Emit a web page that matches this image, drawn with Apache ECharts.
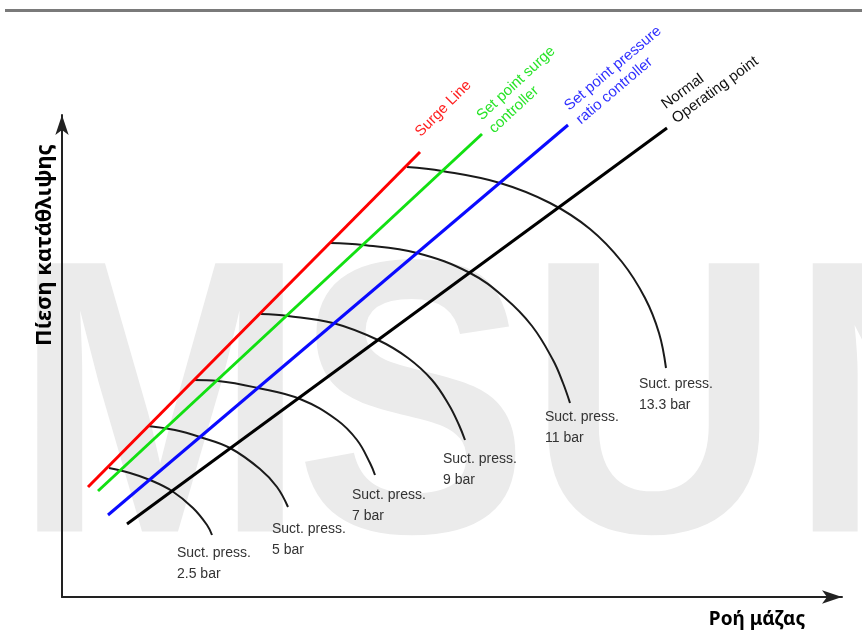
<!DOCTYPE html>
<html>
<head>
<meta charset="utf-8">
<script src="https://cdn.jsdelivr.net/npm/echarts@6/dist/echarts.min.js"></script>
<style>
  html, body { margin: 0; padding: 0; background: #fff; }
  #chart { width: 862px; height: 644px; }
</style>
</head>
<body>
<div id="chart"></div>
<script>
// axis ranges (mass flow / discharge pressure, units)
var flowMax = 780;
var pressMax = 482;

// straight control lines: [start, end]
var lineNames = ['Surge Line', 'Set point surge\ncontroller', 'Set point pressure\nratio controller', 'Normal\nOperating point'];
var surgeLine = [[26, 110], [358, 445]];
var surgeCtrl = [[36, 106], [420, 463]];
var ratioCtrl = [[46, 82], [506, 472]];
var normalOp = [[65, 73], [605, 469]];

// compressor characteristic for each suction pressure
var suctLabels = ['2.5 bar', '5 bar', '7 bar', '9 bar', '11 bar', '13.3 bar'];
var curve25 = [[47, 129], [68, 124], [88, 117], [110, 106], [131, 89], [145, 72], [150, 62]];
var curve5 = [[86, 171], [113, 167], [138, 160], [168, 149], [198, 128], [215, 110], [226, 90]];
var curve7 = [[131, 217], [156, 216], [196, 209], [238, 198], [275, 177], [295, 157], [308, 134], [313, 122]];
var curve9 = [[199, 283], [226, 281], [271, 274], [316, 257], [346, 239], [370, 217], [387, 192], [397, 172], [403, 157]];
var curve11 = [[268, 354], [301, 352], [355, 344], [408, 324], [443, 299], [470, 271], [491, 237], [501, 214], [508, 194]];
var curve133 = [[345, 430], [380, 426], [438, 414], [488, 394], [528, 368], [560, 335], [583, 299], [597, 264], [604, 229]];

var lineData = [surgeLine, surgeCtrl, ratioCtrl, normalOp];
var lineColors = ['#ff0000', '#12e012', '#0a0aff', '#000000'];
var lineTextColors = ['#ff2020', '#28e428', '#3030ff', '#111111'];
// label offset along the line / perpendicular to it (px)
var lineLabelOffset = [[11, 14], [9, 5], [10, 5], [10, 11]];

var curveData = [curve25, curve5, curve7, curve9, curve11, curve133];
// label offset from curve end (px): left shift, first line centre drop
var suctOffset = [[-35, 18], [-16, 22], [-23, 20], [-22, 19], [-25, 14], [-27, 16]];

var chart = echarts.init(document.getElementById('chart'));

var seriesList = [];
curveData.forEach(function (d, i) {
    seriesList.push({
        name: 'Suct. press. ' + suctLabels[i],
        type: 'line',
        data: d,
        smooth: 0.4,
        showSymbol: false,
        silent: true,
        clip: false,
        z: 2,
        lineStyle: { color: '#1a1a1a', width: 2 }
    });
});
lineData.forEach(function (d, i) {
    seriesList.push({
        name: lineNames[i],
        type: 'line',
        data: d,
        showSymbol: false,
        silent: true,
        clip: false,
        z: 3,
        lineStyle: { color: lineColors[i], width: 3 }
    });
});

var axisStyle = {
    type: 'value',
    axisLine: {
        show: true,
        symbol: ['none', 'arrow'],
        symbolSize: [10, 20],
        lineStyle: { color: '#222', width: 2 }
    },
    axisTick: { show: false },
    axisLabel: { show: false },
    splitLine: { show: false }
};

option = {
    backgroundColor: '#fff',
    animation: false,
    grid: { left: 62, right: 20, top: 115, bottom: 47 },
    xAxis: Object.assign({}, axisStyle, { min: 0, max: flowMax }),
    yAxis: Object.assign({}, axisStyle, { min: 0, max: pressMax }),
    series: seriesList
};
chart.setOption(option);

// watermark, frame line, axis titles and annotations
var graphics = [];
var wm = [['M', 160], ['S', 412], ['U', 654], ['N', 916]];
wm.forEach(function (w) {
    graphics.push({
        type: 'text', z: -10, silent: true, x: w[1], y: 424, scaleX: 0.9,
        style: { text: w[0], fill: '#ebebeb', fontSize: 390, fontWeight: 'bold',
            fontFamily: 'Liberation Sans', align: 'center', verticalAlign: 'middle' }
    });
});
graphics.push({
    type: 'line', silent: true, shape: { x1: 5, y1: 10.5, x2: 862, y2: 10.5 },
    style: { stroke: '#7a7a7a', lineWidth: 3 }
});
graphics.push({
    type: 'text', x: 45, y: 245, rotation: Math.PI / 2,
    style: { text: 'Πίεση κατάθλιψης', fill: '#000', fontSize: 22, fontWeight: 'bold',
        fontFamily: 'Noto Sans', align: 'center', verticalAlign: 'middle' }
});
graphics.push({
    type: 'text', x: 757, y: 620,
    style: { text: 'Ροή μάζας', fill: '#000', fontSize: 19, fontWeight: 'bold',
        fontFamily: 'Noto Sans', align: 'center', verticalAlign: 'middle' }
});

function toPx(p) { return chart.convertToPixel({ gridIndex: 0 }, p); }

lineData.forEach(function (d, i) {
    var a = toPx(d[0]), b = toPx(d[1]);
    var dx = b[0] - a[0], dy = b[1] - a[1];
    var len = Math.sqrt(dx * dx + dy * dy);
    var ux = dx / len, uy = dy / len;
    var px = uy, py = -ux; // perpendicular, towards upper left
    var off = lineLabelOffset[i];
    graphics.push({
        type: 'text',
        x: b[0] + ux * off[0] + px * off[1],
        y: b[1] + uy * off[0] + py * off[1],
        rotation: Math.atan2(-dy, dx),
        style: { text: lineNames[i], fill: lineTextColors[i], fontSize: 15, lineHeight: 18,
            fontFamily: 'Liberation Sans', align: 'left', verticalAlign: 'middle' }
    });
});

curveData.forEach(function (d, i) {
    var e = toPx(d[d.length - 1]);
    var off = suctOffset[i];
    graphics.push({
        type: 'text',
        x: e[0] + off[0],
        y: e[1] + off[1] - 10.5,
        style: { text: 'Suct. press.\n' + suctLabels[i], fill: '#333', fontSize: 14, lineHeight: 21,
            fontFamily: 'Liberation Sans', align: 'left', verticalAlign: 'top' }
    });
});

chart.setOption({ graphic: graphics });
</script>
</body>
</html>
